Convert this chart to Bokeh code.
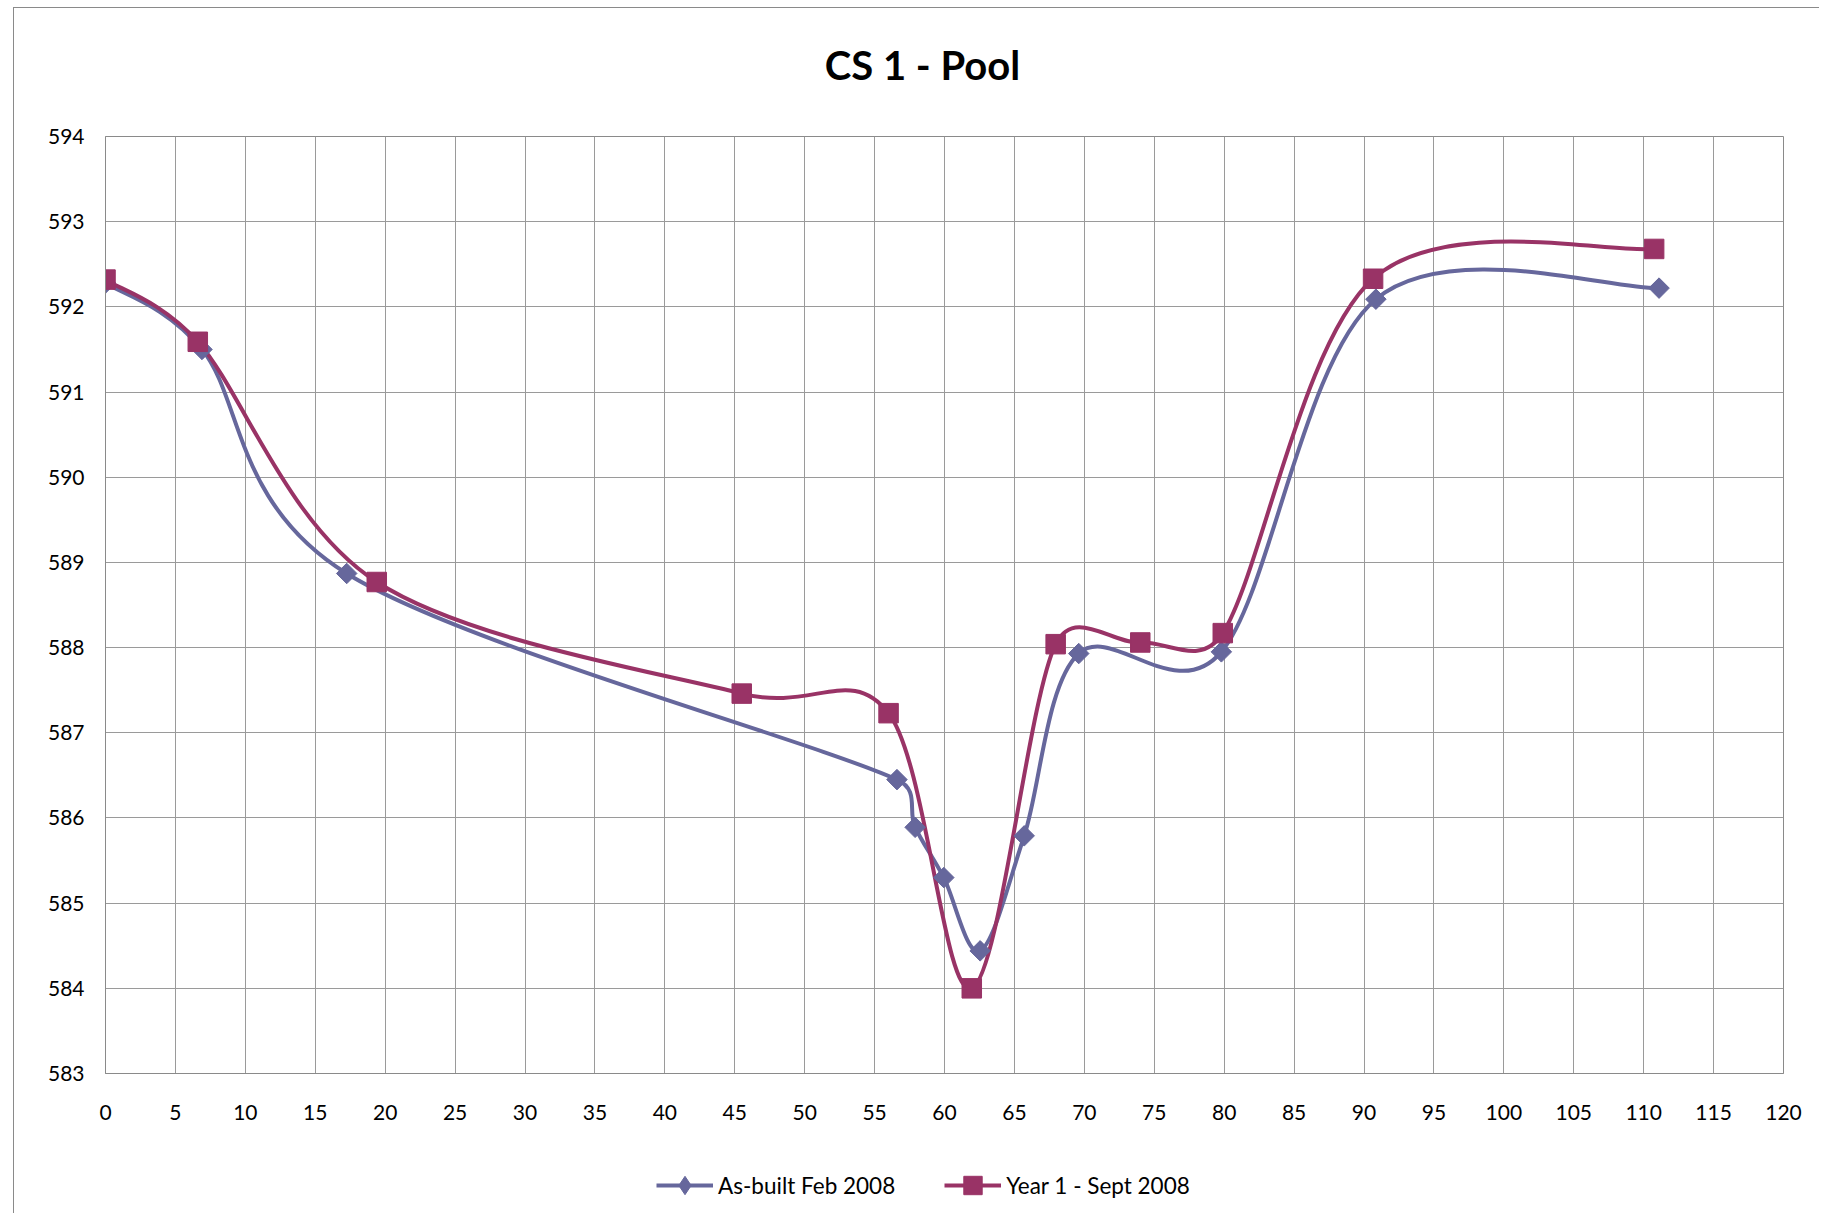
import numpy as np
from bokeh.plotting import figure
from bokeh.layouts import column
from bokeh.models import Legend, LegendItem, Label, Range1d, FixedTicker, ColumnDataSource
from bokeh.embed import file_html
from bokeh.resources import INLINE

# ---------------- data ----------------
chart_title = "CS 1 - Pool"
series_names = ["As-built Feb 2008", "Year 1 - Sept 2008"]

asbuilt_x = [0.0, 6.9, 17.25, 56.6, 57.9, 59.95, 62.55, 65.7, 69.6, 79.8, 90.85, 111.1]
asbuilt_y = [592.28, 591.50, 588.87, 586.45, 585.89, 585.30, 584.44, 585.79, 587.93, 587.95, 592.09, 592.22]

year1_x = [0.0, 6.6, 19.4, 45.5, 56.0, 61.95, 67.95, 74.0, 79.9, 90.65, 110.75]
year1_y = [592.32, 591.59, 588.77, 587.46, 587.23, 584.00, 588.04, 588.06, 588.17, 592.33, 592.68]

x_ticks = list(range(0, 121, 5))
y_ticks = list(range(583, 595))

# ---------------- styling ----------------
FONT = "Lato"
BLUE = "#66679c"
RED = "#993366"
GRID = "#9a9a9a"
AXIS = "#8a8a8a"

FW, FH = 1678, 937              # plot frame size
MB_L, MB_R, MB_T, MB_B = 91, 36, 14, 50
TITLE_H, LEGEND_H = 114, 90


def blank_fig(h, xr=(0, 1), yr=(0, 1)):
    f = figure(frame_width=FW, frame_height=h, output_backend="svg", toolbar_location=None,
               x_range=Range1d(*xr), y_range=Range1d(*yr),
               x_axis_type=None, y_axis_type=None,
               min_border_left=MB_L, min_border_right=MB_R, min_border_top=0, min_border_bottom=0)
    f.outline_line_color = None
    f.background_fill_color = "white"
    f.border_fill_color = "white"
    return f


# ---- title strip ----
tfig = blank_fig(TITLE_H)
tfig.add_layout(Label(x=817, y=58, x_units="screen", y_units="screen", text=chart_title,
                      text_align="center", text_baseline="middle", text_font=FONT,
                      text_font_size="40px", text_font_style="bold", text_color="black"))

# ---- main plot ----
p = figure(frame_width=FW, frame_height=FH, output_backend="svg", toolbar_location=None,
           x_range=Range1d(0, 120), y_range=Range1d(583, 594),
           min_border_left=MB_L, min_border_right=MB_R,
           min_border_top=MB_T, min_border_bottom=MB_B)
p.outline_line_color = AXIS
p.outline_line_width = 1
p.background_fill_color = "white"
p.border_fill_color = "white"

for ax, ticks, stand in ((p.xaxis[0], x_ticks, 25), (p.yaxis[0], y_ticks, 15)):
    ax.ticker = FixedTicker(ticks=ticks)
    ax.axis_line_color = AXIS
    ax.major_tick_line_color = None
    ax.minor_tick_line_color = None
    ax.major_label_text_font = FONT
    ax.major_label_text_font_size = "21px"
    ax.major_label_text_color = "black"
    ax.major_label_standoff = stand

p.xgrid.ticker = FixedTicker(ticks=x_ticks)
p.ygrid.ticker = FixedTicker(ticks=y_ticks)
for g in (p.xgrid[0], p.ygrid[0]):
    g.grid_line_color = GRID
    g.grid_line_width = 1

# pixel scale of the frame, used to shape the smoothed curves like Excel's
sx = FW / 120.0
sy = FH / 11.0


def smooth_segments(xs, ys):
    P = np.column_stack([np.asarray(xs) * sx, np.asarray(ys) * sy])
    n = len(P)
    keys = ("x0", "y0", "x1", "y1", "cx0", "cy0", "cx1", "cy1")
    out = {k: [] for k in keys}
    f = 1.0 / 6.0
    for i in range(n - 1):
        p0 = P[i - 1] if i > 0 else P[i]
        p1, p2 = P[i], P[i + 1]
        p3 = P[i + 2] if i + 2 < n else P[i + 1]
        d12 = np.linalg.norm(p2 - p1)
        t1 = p2 - p0
        t2 = p3 - p1
        n1, n2 = np.linalg.norm(t1), np.linalg.norm(t2)
        c1 = p1 + t1 / n1 * min(n1 * f, d12 / 2) if n1 > 0 else p1
        c2 = p2 - t2 / n2 * min(n2 * f, d12 / 2) if n2 > 0 else p2
        for k, v in zip(keys, (p1[0] / sx, p1[1] / sy, p2[0] / sx, p2[1] / sy,
                               c1[0] / sx, c1[1] / sy, c2[0] / sx, c2[1] / sy)):
            out[k].append(v)
    return ColumnDataSource(out)


LW = 4
p.bezier(source=smooth_segments(asbuilt_x, asbuilt_y), x0="x0", y0="y0", x1="x1", y1="y1",
         cx0="cx0", cy0="cy0", cx1="cx1", cy1="cy1", line_color=BLUE, line_width=LW)
p.bezier(source=smooth_segments(year1_x, year1_y), x0="x0", y0="y0", x1="x1", y1="y1",
         cx0="cx0", cy0="cy0", cx1="cx1", cy1="cy1", line_color=RED, line_width=LW)

p.scatter(asbuilt_x, asbuilt_y, marker="square", angle=np.pi / 4, size=14.5,
          fill_color=BLUE, line_color=BLUE)
p.scatter(year1_x, year1_y, marker="square", size=19.5, fill_color=RED, line_color=RED)

# ---- legend strip: its ranges lie away from the data, so only the legend shows ----
lfig = blank_fig(LEGEND_H, xr=(1000, 1001), yr=(1000, 1001))
l1 = lfig.line(asbuilt_x, asbuilt_y, line_color=BLUE, line_width=LW)
m1 = lfig.scatter(asbuilt_x, asbuilt_y, marker="diamond", size=18, fill_color=BLUE, line_color=BLUE)
l2 = lfig.line(year1_x, year1_y, line_color=RED, line_width=LW)
m2 = lfig.scatter(year1_x, year1_y, marker="square", size=18, fill_color=RED, line_color=RED)

legend = Legend(items=[LegendItem(label=series_names[0], renderers=[l1, m1]),
                       LegendItem(label=series_names[1], renderers=[l2, m2])],
                orientation="horizontal", location=(551, 5),
                glyph_width=57, glyph_height=46, label_standoff=5, spacing=49,
                padding=0, margin=0, border_line_color=None,
                background_fill_alpha=0, label_text_font=FONT,
                label_text_font_size="22.5px", label_text_color="black")
lfig.add_layout(legend, "center")

layout = column(tfig, p, lfig, spacing=0)
layout.margin = (7, 0, 0, 13)
layout.styles = {"border-left": f"1px solid {AXIS}", "border-top": f"1px solid {AXIS}"}

open("out.html", "w").write(file_html(layout, INLINE))
